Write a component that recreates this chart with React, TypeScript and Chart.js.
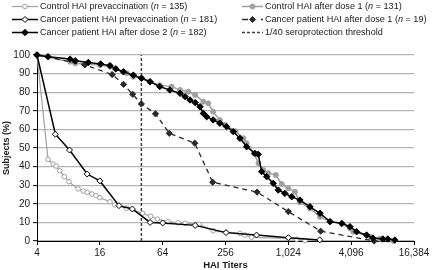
import React, { useEffect, useRef } from 'react';
import { Chart, registerables } from 'chart.js';

Chart.register(...registerables);

// ---- Data ----
const xTickValues = [4, 16, 64, 256, 1024, 4096, 16384];
const thresholdTiter = 40;

const ctrlPreTiters = [4, 5.1, 5.7, 6.1, 6.6, 7.3, 8.1, 9.9, 11.1, 12.1, 13.4, 14.7, 16, 20, 22.3, 28.9, 41, 49, 57, 72, 90, 105, 143, 195, 259, 352, 393, 455, 1024, 1233, 1480];
const ctrlPrePct = [100, 43.9, 41.4, 40.3, 37.8, 34.6, 31.9, 28, 26.9, 26.2, 25.3, 24.4, 23.3, 21.1, 19.4, 17.6, 14.9, 13.3, 11.8, 10.4, 9.8, 9.5, 9, 5.5, 4.7, 4.1, 3.2, 2.0, 1.4, 0.9, 0.2];

const ctrlDose1Titers = [4, 8.3, 9.3, 16, 20, 22.5, 29, 33.5, 40, 48, 60, 78, 94, 113, 131, 157, 175, 195, 226, 253, 320, 380, 408, 480, 530, 588, 657, 777, 885, 1024, 1185, 1324, 1650, 2060, 2570, 3330, 3990, 4290, 6200, 7740, 10360];
const ctrlDose1Pct = [100, 96.4, 95.5, 94.6, 93.7, 92.8, 90.2, 88.3, 87.5, 85.8, 83.8, 83, 81.2, 80.3, 78.5, 74.9, 74, 69.5, 65, 62.4, 59, 55.2, 52.5, 47.1, 41.8, 38.2, 36.5, 35.5, 30.6, 28.3, 26.5, 20.8, 17.5, 13, 10.4, 9.2, 6.8, 5, 2.3, 1.2, 0];

const cancerPreTiters = [4, 6, 8.2, 12.1, 16, 24.4, 32.8, 48.5, 64, 131, 259, 508, 1024, 2048];
const cancerPrePct = [100, 57.4, 48.9, 36, 32.3, 19, 17.2, 10, 9.7, 8.4, 4.5, 3.2, 1.8, 0.6];

const cancerDose1Titers = [4, 11.5, 21, 27, 33, 40, 54.6, 74, 130, 193, 514, 1024, 2090, 6800];
const cancerDose1Pct = [100, 94.7, 89.5, 84.2, 78.9, 73.7, 68.4, 57.9, 52.6, 31.6, 26.3, 15.8, 5.3, 0];

const cancerDose2Titers = [4, 5.1, 8.3, 9.3, 12.4, 16.3, 20, 22.8, 26.9, 33.5, 40.2, 48.5, 60, 75, 94, 105, 117, 131, 146, 157, 169, 195, 226, 262, 304, 352, 408, 490, 527, 568, 635, 734, 820, 948, 1104, 1324, 1652, 2060, 2570, 3330, 3990, 4620, 5750, 6620, 8250, 9200, 10740];
const cancerDose2Pct = [100, 99.1, 97.8, 96.9, 96, 95.2, 94.3, 92.5, 91, 89.2, 87.5, 85.6, 83, 81.2, 79.4, 77.6, 75.8, 74.4, 72.2, 68.6, 66.8, 65.1, 63.3, 61.5, 58.8, 55.2, 50.7, 47.1, 46.6, 37.3, 34.6, 31, 27.4, 25.6, 23.8, 22, 18.4, 14.9, 10.4, 9.5, 7.7, 5, 3.2, 1.6, 1.1, 1.1, 0.5];

const legendLabels = [
  ['Control HAI prevaccination (', '135'],
  ['Control HAI after dose 1 (', '131'],
  ['Cancer patient HAI prevaccination (', '181'],
  ['Cancer patient HAI after dose 1 (', '19'],
  ['Cancer patient HAI after dose 2 (', '182'],
  ['1/40 seroprotection threshold', ''],
];

const toPoints = (xs: number[], ys: number[]) => xs.map((x, i) => ({ x, y: ys[i] }));

const FONT = '"Liberation Sans", Arial, sans-serif';
const LEGEND_SIZE = 9.1;

type LegendStyle = {
  color: string;
  width: number;
  dash: number[];
  marker: 'circle' | 'diamond' | 'none';
  r: number;
  fill: string;
  stroke: string;
};

const styles: LegendStyle[] = [
  { color: '#a6a6a6', width: 1.3, dash: [], marker: 'circle', r: 2.3, fill: '#ffffff', stroke: '#a0a0a0' },
  { color: '#a0a0a0', width: 1.5, dash: [], marker: 'circle', r: 2.5, fill: '#a0a0a0', stroke: '#a0a0a0' },
  { color: '#000000', width: 1.5, dash: [], marker: 'diamond', r: 3, fill: '#ffffff', stroke: '#000000' },
  { color: '#2a2a2a', width: 1.3, dash: [5, 4], marker: 'diamond', r: 3.1, fill: '#2a2a2a', stroke: '#2a2a2a' },
  { color: '#000000', width: 1.5, dash: [], marker: 'diamond', r: 3.2, fill: '#000000', stroke: '#000000' },
  { color: '#404040', width: 1.5, dash: [3, 2], marker: 'none', r: 0, fill: '', stroke: '' },
];

function drawMarker(ctx: CanvasRenderingContext2D, s: LegendStyle, x: number, y: number) {
  if (s.marker === 'none') return;
  ctx.save();
  ctx.setLineDash([]);
  ctx.beginPath();
  if (s.marker === 'circle') {
    ctx.arc(x, y, s.r, 0, Math.PI * 2);
  } else {
    ctx.moveTo(x, y - s.r);
    ctx.lineTo(x + s.r, y);
    ctx.lineTo(x, y + s.r);
    ctx.lineTo(x - s.r, y);
    ctx.closePath();
  }
  ctx.fillStyle = s.fill;
  ctx.fill();
  ctx.lineWidth = 1;
  ctx.strokeStyle = s.stroke;
  ctx.stroke();
  ctx.restore();
}

const legendPlugin = {
  id: 'customLegend',
  afterDraw(chart: any) {
    const ctx: CanvasRenderingContext2D = chart.ctx;
    const cols = [
      { x0: 12, x1: 38, tx: 40 },
      { x0: 242, x1: 263, tx: 265 },
    ];
    const rows = [6, 19, 32];
    ctx.save();
    ctx.textBaseline = 'middle';
    ctx.fillStyle = '#1a1a1a';
    legendLabels.forEach((lab, i) => {
      const c = cols[i % 2];
      const y = rows[Math.floor(i / 2)];
      const s = styles[i];
      ctx.save();
      ctx.strokeStyle = s.color;
      ctx.lineWidth = s.width;
      ctx.setLineDash(i === 3 ? [6, 13] : s.dash);
      ctx.beginPath();
      ctx.moveTo(c.x0, y + 0.5);
      ctx.lineTo(c.x1, y + 0.5);
      ctx.stroke();
      ctx.restore();
      drawMarker(ctx, s, (c.x0 + c.x1) / 2, y + 0.5);
      let x = c.tx;
      ctx.font = `${LEGEND_SIZE}px ${FONT}`;
      ctx.fillText(lab[0], x, y);
      if (lab[1]) {
        x += ctx.measureText(lab[0]).width;
        ctx.font = `italic ${LEGEND_SIZE}px ${FONT}`;
        ctx.fillText('n', x, y);
        x += ctx.measureText('n').width;
        ctx.font = `${LEGEND_SIZE}px ${FONT}`;
        ctx.fillText(' = ' + lab[1] + ')', x, y);
      }
    });
    ctx.restore();
  },
};

export default function App() {
  const ref = useRef<HTMLCanvasElement>(null);
  useEffect(() => {
    if (!ref.current) return;
    const mk = (i: number, data: any[], order: number) => {
      const s = styles[i];
      return {
        label: legendLabels[i][0],
        data,
        borderColor: s.color,
        borderWidth: s.width,
        borderDash: s.dash,
        backgroundColor: s.fill,
        pointStyle: s.marker === 'diamond' ? 'rectRot' : 'circle',
        pointRadius: s.r,
        pointHoverRadius: s.r,
        pointBackgroundColor: s.fill,
        pointBorderColor: s.stroke,
        pointBorderWidth: 1,
        tension: 0,
        fill: false,
        clip: false,
        order,
      };
    };
    const chart = new Chart(ref.current, {
      type: 'line',
      data: {
        datasets: [
          mk(0, toPoints(ctrlPreTiters, ctrlPrePct), 5),
          mk(1, toPoints(ctrlDose1Titers, ctrlDose1Pct), 4),
          mk(2, toPoints(cancerPreTiters, cancerPrePct), 2),
          mk(3, toPoints(cancerDose1Titers, cancerDose1Pct), 3),
          mk(4, toPoints(cancerDose2Titers, cancerDose2Pct), 1),
          mk(5, [{ x: thresholdTiter, y: 0 }, { x: thresholdTiter, y: 100 }], 6),
        ] as any,
      },
      options: {
        animation: false,
        responsive: false,
        devicePixelRatio: 1,
        layout: { padding: { top: 55, right: 18, left: 0, bottom: 0 } },
        plugins: { legend: { display: false }, tooltip: { enabled: false }, title: { display: false } },
        scales: {
          x: {
            type: 'logarithmic',
            min: 4,
            max: 16384,
            afterBuildTicks: (scale: any) => {
              scale.ticks = xTickValues.map((v) => ({ value: v }));
            },
            afterFit: (scale: any) => {
              scale.height = 29;
            },
            ticks: {
              autoSkip: false,
              maxRotation: 0,
              padding: 2,
              color: '#1a1a1a',
              font: { family: FONT, size: 10 },
              callback: (v: any) => Number(v).toLocaleString('en-US'),
            },
            grid: { drawOnChartArea: false, drawTicks: true, tickLength: 4, tickColor: '#000', tickWidth: 1 },
            border: { display: true, color: '#000', width: 1 },
            title: {
              display: true,
              text: 'HAI Titers',
              color: '#1a1a1a',
              font: { family: FONT, size: 9.5, weight: 'bold', lineHeight: 1 },
              padding: { top: 0, bottom: 0 },
            },
          },
          y: {
            min: 0,
            max: 100,
            afterFit: (scale: any) => {
              scale.width = 37;
            },
            ticks: {
              stepSize: 10,
              padding: 3,
              color: '#1a1a1a',
              font: { family: FONT, size: 10 },
            },
            grid: { color: '#b4b4b4', lineWidth: 1.3, drawTicks: true, tickLength: 4, tickColor: '#000', tickWidth: 1 },
            border: { display: true, color: '#000', width: 1 },
            title: {
              display: true,
              text: 'Subjects (%)',
              color: '#1a1a1a',
              font: { family: FONT, size: 9, weight: 'bold', lineHeight: 1.2 },
              padding: { top: 1, bottom: 0 },
            },
          },
        },
      } as any,
      plugins: [legendPlugin],
    });
    return () => chart.destroy();
  }, []);
  return (
    <div style={{ position: 'absolute', left: 0, top: 0, width: 432, height: 270, background: '#fff' }}>
      <canvas ref={ref} width={432} height={270} />
    </div>
  );
}
